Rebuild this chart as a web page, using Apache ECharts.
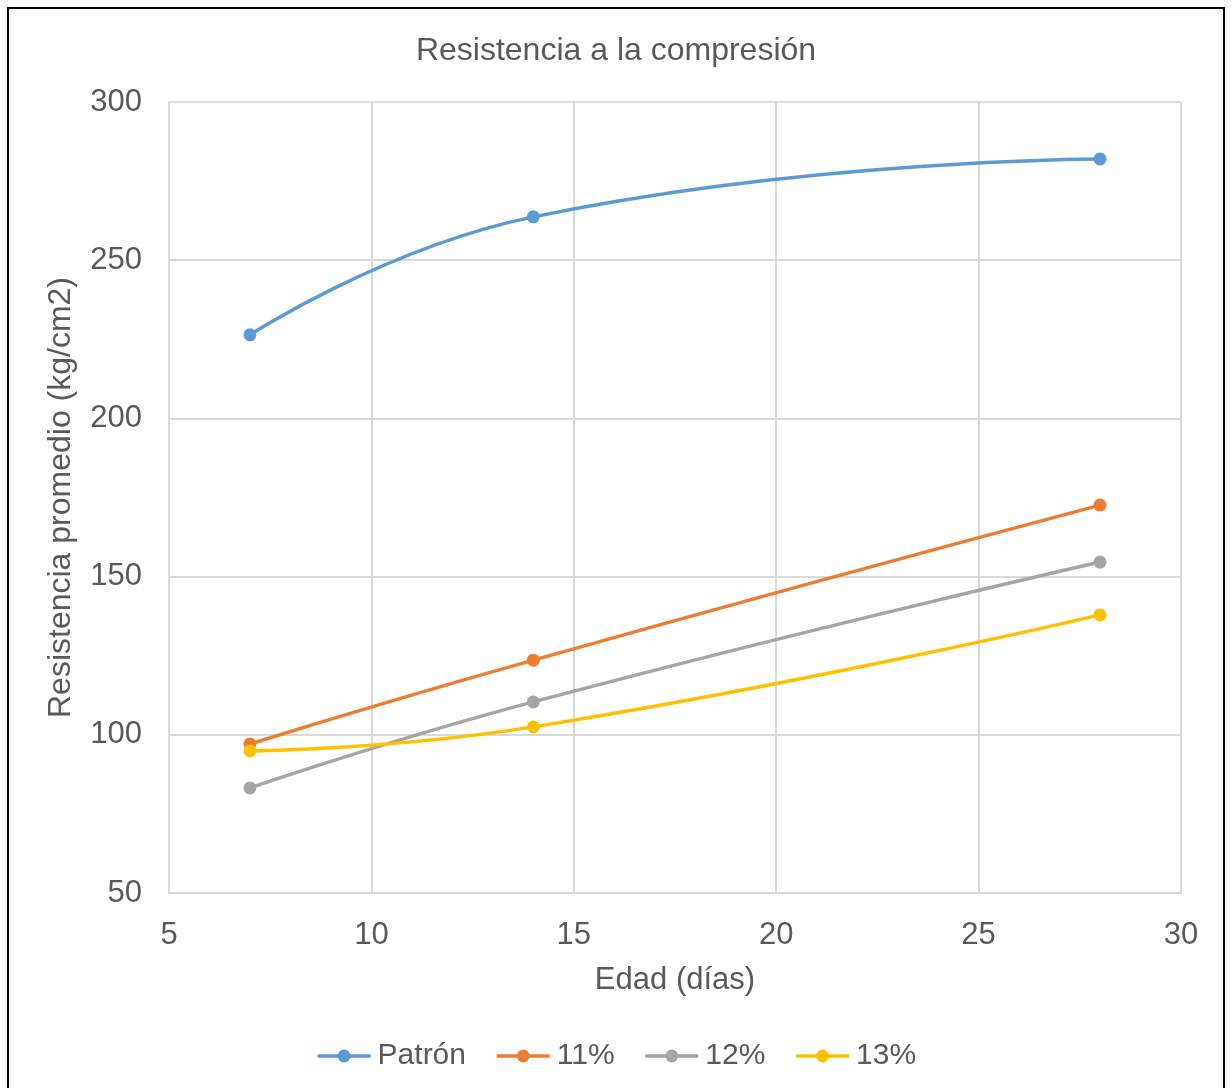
<!DOCTYPE html>
<html><head><meta charset="utf-8">
<script src="https://cdn.jsdelivr.net/npm/echarts@6/dist/echarts.min.js"></script>
<style>html,body{margin:0;padding:0;background:#fff}#c{width:1232px;height:1088px}</style>
</head><body><div id="c"></div>
<script>
const edades = [7, 14, 28];
const patron = [226.4, 263.7, 282.0];
const p11 = [97.1, 123.6, 172.6];
const p12 = [83.2, 110.4, 154.6];
const p13 = [94.9, 102.5, 137.9];
const seriesNames = ['Patrón', '11%', '12%', '13%'];
const colors = ['#5b9bd5', '#ed7d31', '#a5a5a5', '#ffc000'];
const allData = [patron, p11, p12, p13];

const chart = echarts.init(document.getElementById('c'));
const font = 'Liberation Sans, Arial, sans-serif';
chart.setOption({
  animation: false,
  backgroundColor: '#fff',
  title: {
    text: 'Resistencia a la compresión',
    left: 'center', top: 30,
    textStyle: {fontFamily: font, fontWeight: 'normal', fontSize: 32, color: '#595959'}
  },
  graphic: [{type: 'rect', shape: {x: 8, y: 8, width: 1216, height: 1100}, style: {fill: 'none', stroke: '#000', lineWidth: 2}, silent: true}],
  legend: {
    data: seriesNames,
    top: 1036, left: 'center',
    itemWidth: 53, itemHeight: 16, itemGap: 29,
    lineStyle: {width: 3.5},
    textStyle: {fontFamily: font, fontSize: 30, color: '#595959', padding: [0,0,0,2]}
  },
  grid: {left: 169, right: 51, top: 102, bottom: 195},
  xAxis: {
    type: 'value', min: 5, max: 30, interval: 5,
    name: 'Edad (días)', nameLocation: 'middle', nameGap: 72,
    nameTextStyle: {fontFamily: font, fontSize: 31, color: '#595959'},
    axisLine: {show: true, lineStyle: {color: '#d9d9d9', width: 2}},
    axisTick: {show: false},
    axisLabel: {fontFamily: font, fontSize: 31, color: '#595959', margin: 27},
    splitLine: {show: true, lineStyle: {color: '#d9d9d9', width: 2}}
  },
  yAxis: {
    type: 'value', min: 50, max: 300, interval: 50,
    name: 'Resistencia promedio (kg/cm2)', nameLocation: 'middle', nameGap: 92,
    nameTextStyle: {fontFamily: font, fontSize: 32, color: '#595959'},
    axisLine: {show: true, lineStyle: {color: '#d9d9d9', width: 2}},
    axisTick: {show: false},
    axisLabel: {fontFamily: font, fontSize: 31, color: '#595959', margin: 27},
    splitLine: {show: true, lineStyle: {color: '#d9d9d9', width: 2}}
  },
  series: seriesNames.map((n, i) => ({
    name: n, type: 'line', smooth: 0.5,
    data: edades.map((x, j) => [x, allData[i][j]]),
    symbol: 'circle', symbolSize: 13,
    lineStyle: {color: colors[i], width: 3.5},
    itemStyle: {color: colors[i]}
  }))
});
</script></body></html>
